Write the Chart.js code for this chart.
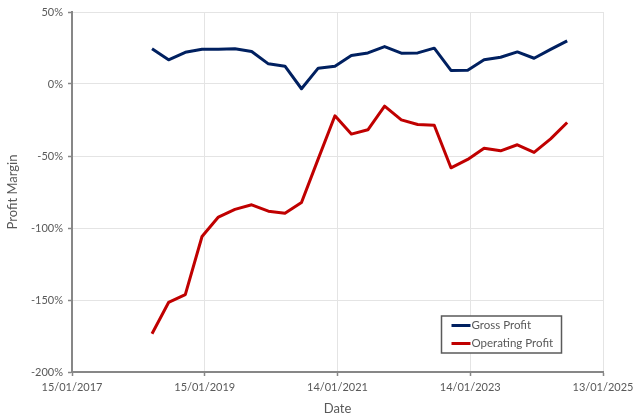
<!DOCTYPE html>
<html>
<head>
<meta charset="utf-8">
<script src="https://cdn.jsdelivr.net/npm/chart.js@4/dist/chart.umd.min.js"></script>
<style>
html,body{margin:0;padding:0;background:#fff;}
#c{display:block;}
</style>
</head>
<body>
<canvas id="c" width="640" height="417"></canvas>
<script>
// Quarter-end dates
const dates = [
  "2018-03-31","2018-06-30","2018-09-30","2018-12-31",
  "2019-03-31","2019-06-30","2019-09-30","2019-12-31",
  "2020-03-31","2020-06-30","2020-09-30","2020-12-31",
  "2021-03-31","2021-06-30","2021-09-30","2021-12-31",
  "2022-03-31","2022-06-30","2022-09-30","2022-12-31",
  "2023-03-31","2023-06-30","2023-09-30","2023-12-31",
  "2024-03-31","2024-06-30"
];
// Profit margins in %
const grossProfit = [24.4, 16.8, 22.0, 24.2, 24.2, 24.5, 22.6, 14.0, 12.4, -3.3, 11.0, 12.4, 19.8, 21.6, 26.0, 21.4, 21.6, 24.9, 9.4, 9.6, 16.8, 18.6, 22.3, 17.9, 24.0, 30.0];
const operatingProfit = [-173.4, -151.7, -146.3, -105.9, -92.4, -87.1, -83.9, -88.3, -89.7, -82.3, -52.0, -22.1, -34.8, -31.8, -15.4, -24.9, -28.1, -28.6, -58.2, -52.4, -44.6, -46.4, -42.2, -47.5, -38.1, -26.7];
const seriesNames = ["Gross Profit", "Operating Profit"];
const xTickDates = ["2017-01-15","2019-01-15","2021-01-14","2023-01-14","2025-01-13"];
const yTicks = [50, 0, -50, -100, -150, -200];

const toMs = s => { const [y,m,d] = s.split("-").map(Number); return Date.UTC(y, m-1, d); };
const fmt = v => { const d = new Date(v); const p = n => String(n).padStart(2,"0");
  return p(d.getUTCDate()) + "/" + p(d.getUTCMonth()+1) + "/" + d.getUTCFullYear(); };

const FONT = "Lato, 'Open Sans', sans-serif";
const TXT = "#595959";
const AXIS = "#878787";
const GRID = "#e4e4e4";

const legendPlugin = {
  id: "boxLegend",
  afterDraw(chart) {
    const ctx = chart.ctx;
    const x0 = 441.5, y0 = 316, w = 120, h = 37;
    ctx.save();
    ctx.fillStyle = "#fff";
    ctx.fillRect(x0, y0, w, h);
    ctx.strokeStyle = "#5a5a5a";
    ctx.lineWidth = 1.5;
    ctx.strokeRect(x0, y0, w, h);
    ctx.font = "11.5px " + FONT;
    ctx.textBaseline = "middle";
    ctx.textAlign = "left";
    chart.data.datasets.forEach((ds, i) => {
      const yy = y0 + 9.5 + i * 18;
      ctx.strokeStyle = ds.borderColor;
      ctx.lineWidth = 3;
      ctx.beginPath();
      ctx.moveTo(x0 + 10, yy);
      ctx.lineTo(x0 + 29, yy);
      ctx.stroke();
      ctx.fillStyle = TXT;
      ctx.fillText(ds.label, x0 + 30, yy);
    });
    ctx.restore();
  }
};

new Chart(document.getElementById("c"), {
  type: "line",
  data: {
    datasets: [
      { label: seriesNames[0], data: dates.map((d,i) => ({x: toMs(d), y: grossProfit[i]})),
        borderColor: "#002060", borderWidth: 3, pointRadius: 0, tension: 0, fill: false,
        borderJoinStyle: "round" },
      { label: seriesNames[1], data: dates.map((d,i) => ({x: toMs(d), y: operatingProfit[i]})),
        borderColor: "#C00000", borderWidth: 3, pointRadius: 0, tension: 0, fill: false,
        borderJoinStyle: "round" }
    ]
  },
  options: {
    responsive: false,
    animation: false,
    devicePixelRatio: 1,
    layout: { padding: { left: 0, right: 37, top: 12, bottom: 0 } },
    plugins: { legend: { display: false }, tooltip: { enabled: false } },
    scales: {
      x: {
        type: "linear",
        min: toMs(xTickDates[0]),
        max: toMs(xTickDates[xTickDates.length-1]),
        afterBuildTicks: s => { s.ticks = xTickDates.map(d => ({value: toMs(d)})); },
        afterFit: s => { s.height = 45; },
        ticks: { callback: v => fmt(v), color: TXT, font: { family: FONT, size: 11 }, padding: 5, maxRotation: 0, autoSkip: false },
        grid: { color: GRID, lineWidth: 1, drawTicks: true, tickLength: 4, tickColor: AXIS, tickWidth: 1.5 },
        border: { color: AXIS, width: 2 },
        title: { display: true, text: "Date", color: TXT, font: { family: FONT, size: 13 }, padding: { top: 1, bottom: 0 } }
      },
      y: {
        type: "linear",
        min: -200, max: 50,
        afterBuildTicks: s => { s.ticks = yTicks.map(v => ({value: v})); },
        afterFit: s => { s.width = 72; },
        ticks: { callback: v => v + "%", color: TXT, font: { family: FONT, size: 11 }, padding: 5 },
        grid: { color: GRID, lineWidth: 1, drawTicks: true, tickLength: 4, tickColor: AXIS, tickWidth: 1.5 },
        border: { color: AXIS, width: 2 },
        title: { display: true, text: "Profit Margin", color: TXT, font: { family: FONT, size: 13 }, padding: { top: 5, bottom: 2 } }
      }
    }
  },
  plugins: [legendPlugin]
});
</script>
</body>
</html>
